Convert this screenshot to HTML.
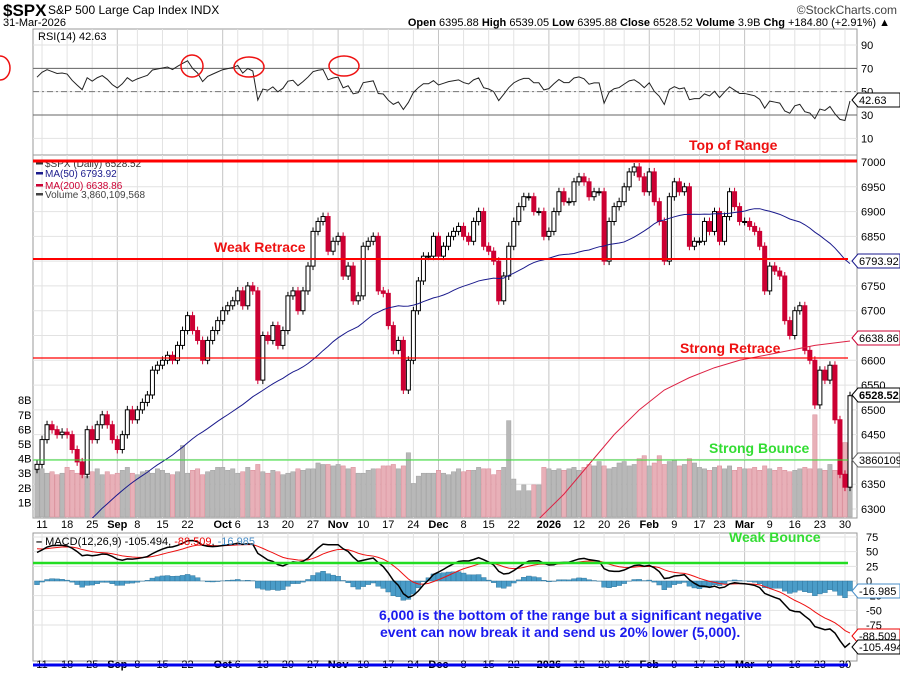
<!DOCTYPE html>
<html><head><meta charset="utf-8"><title>$SPX chart</title>
<style>
html,body{margin:0;padding:0;background:#fff;}
svg{display:block;font-family:"Liberation Sans",sans-serif;}
</style></head>
<body>
<svg id="c" width="900" height="673" viewBox="0 0 900 673" xmlns="http://www.w3.org/2000/svg">
  <rect x="0" y="0" width="900" height="673" fill="#fff"/>
  <g>
    <text x="3" y="16" font-size="17" font-weight="bold">$SPX</text>
    <text x="48" y="14" font-size="12">S&amp;P 500 Large Cap Index  INDX</text>
    <text x="897" y="14" font-size="12" fill="#444" text-anchor="end">©StockCharts.com</text>
    <text x="3" y="26" font-size="11">31-Mar-2026</text>
    <text x="890" y="26" font-size="11" text-anchor="end"><tspan font-weight="bold">Open</tspan> 6395.88 <tspan font-weight="bold">High</tspan> 6539.05 <tspan font-weight="bold">Low</tspan> 6395.88 <tspan font-weight="bold">Close</tspan> 6528.52 <tspan font-weight="bold">Volume</tspan> 3.9B <tspan font-weight="bold">Chg</tspan> +184.80 (+2.91%) ▲</text>
  </g>
  <g id="grid"></g>
  <g id="rsi"></g>
  <g id="price"></g>
  <g id="macd"></g>
  <g id="axes"></g>
  <g id="notes"></g>
</svg>
<script>
// ---------- data ----------
const preCloses = [5890,5920,5940,5910,5900,5880,5840,5800,5920,5890,5910,5910,5930,5970,5940,5940,6000,6020,6040,6020,6000,6030,5980,5970,6030,5980,5970,6020,6080,6090,6140,6170,6200,6190,6230,6280,6280,6260,6230,6270,6260,6240,6260,6290,6300,6300,6310,6360,6390,6380,6390,6370,6360,6340,6240,6330,6300,6350,6340,6390];
const closes = [6390,
6440,6470,6460,6450,6455,
6450,6420,6395,6370,6460,
6440,6470,6490,6470,6440,
6420,6450,6500,6480,
6500,6515,6530,6580,6590,
6600,6610,6600,6630,6660,
6690,6660,6640,6600,6640,
6660,6680,6700,6710,6720,
6740,6710,6750,6740,6560,
6650,6640,6670,6630,6660,
6730,6740,6700,6740,6790,
6860,6880,6890,6820,6840,
6850,6770,6790,6720,6730,
6830,6840,6850,6740,6735,
6670,6620,6640,6540,6600,
6700,6760,6810,6810,6850,
6810,6830,6850,6860,6870,
6850,6840,6880,6900,6830,
6820,6800,6720,6770,6830,
6880,6910,6930,6930,
6900,6900,6850,6860,
6900,6940,6920,6920,6960,
6970,6960,6930,6940,6940,
6800,6880,6910,6920,
6950,6980,6990,6970,6940,
6980,6920,6880,6800,6930,
6960,6940,6950,6830,6840,
6840,6880,6860,6900,
6840,6890,6940,6910,6880,
6880,6870,6860,6830,6740,
6790,6780,6770,6680,6650,
6700,6710,6620,6600,6510,
6580,6560,6590,6480,6370,
6344,6528.52];
const volumes = [3.2,3.3,3.0,3.1,2.9,3.0,3.4,3.2,3.0,3.2,2.8,3.1,3.3,2.9,3.1,2.9,3.0,3.2,3.4,3.0,
2.9,3.1,3.2,3.0,3.3,3.2,3.0,2.9,3.1,4.9,3.0,3.2,3.3,2.9,3.1,3.2,3.4,3.4,3.2,3.3,
3.0,3.1,3.4,3.2,3.6,3.1,3.0,3.2,3.1,2.9,3.0,3.1,3.3,3.2,3.3,3.3,3.7,3.6,3.6,3.5,
3.6,3.5,3.3,3.4,3.0,3.0,3.2,3.3,3.3,3.5,3.5,3.6,3.3,3.5,4.4,2.3,2.8,3.0,3.0,3.0,
3.2,3.0,2.9,3.1,3.3,3.1,3.2,3.2,3.4,3.3,3.3,2.9,3.2,3.4,6.6,2.6,1.8,2.2,1.8,2.2,
2.2,3.4,3.3,3.2,3.3,3.2,3.3,3.4,3.2,3.4,3.6,3.5,3.8,3.5,3.3,3.4,3.7,3.8,3.5,3.6,
4.0,4.2,3.5,3.7,4.2,3.6,3.8,3.9,3.5,3.6,4.0,3.7,3.4,3.3,3.2,3.4,3.5,3.3,3.5,3.2,
3.4,3.3,3.3,3.4,3.2,3.5,3.3,3.2,3.4,3.2,3.1,3.2,3.3,3.4,3.3,7.0,3.3,3.2,3.6,3.2,3.0,5.1,3.86];
const ma200Idx = [100,105,110,115,120,125,130,135,140,145,150,155,162];
const ma200Val = [6280,6330,6390,6450,6500,6540,6565,6585,6600,6610,6620,6630,6638.86];
const tickIdx = [1,6,11,16,20,25,30,37,40,45,50,55,60,65,70,75,80,85,90,95,102,108,113,117,122,127,132,136,141,146,151,156,161];
const tickLbl = ["11","18","25","Sep","8","15","22","Oct","6","13","20","27","Nov","10","17","24","Dec","8","15","22","2026","12","20","26","Feb","9","17","23","Mar","9","16","23","30"];
const priceTicks = [6300,6350,6400,6450,6500,6550,6600,6650,6700,6750,6800,6850,6900,6950,7000];
const volTicks = [1,2,3,4,5,6,7,8];
const rsiTicks = [10,30,50,70,90];
const macdTicks = [-75,-50,-25,0,25,50,75];

// ---------- scales ----------
const NS="http://www.w3.org/2000/svg";
const L=33,R=857,N=closes.length;
const X0=37,X1=850;
const x=i=>X0+i*(X1-X0)/(N-1);
const yP=p=>162-(p-7000)*0.4957;
const yV=v=>517-v*14.6;
const yR=v=>115-(v-30)*1.1667;
const yM=v=>581-v*0.587;
function el(tag,attrs,parent){const e=document.createElementNS(NS,tag);for(const k in attrs)e.setAttribute(k,attrs[k]);parent.appendChild(e);return e;}
const G=id=>document.getElementById(id);
const svg=G('c');
const defs=el('defs',{},svg);
const cp=el('clipPath',{id:'pc'},defs);el('rect',{x:L,y:155,width:R-L,height:363},cp);
const cr=el('clipPath',{id:'rc'},defs);el('rect',{x:L,y:29,width:R-L,height:126},cr);
const cm=el('clipPath',{id:'mc'},defs);el('rect',{x:L,y:533,width:R-L,height:128},cm);

// indicators
const all=preCloses.concat(closes);const off=preCloses.length;
function ema(arr,n){const k=2/(n+1);const o=[];let e=arr[0];arr.forEach((v,i)=>{e=i?v*k+e*(1-k):v;o.push(e);});return o;}
const e12=ema(all,12),e26=ema(all,26);const macdAll=all.map((v,i)=>e12[i]-e26[i]);const sigAll=ema(macdAll,9);
const macd=macdAll.slice(off),sig=sigAll.slice(off);
const rsiAll=[];let ag=0,al=0;
for(let i=1;i<all.length;i++){const d=all[i]-all[i-1];const g=Math.max(d,0),l=Math.max(-d,0);
 if(i<=14){ag+=g/14;al+=l/14;}else{ag=(ag*13+g)/14;al=(al*13+l)/14;}
 rsiAll[i]=al===0?100:100-100/(1+ag/al);}
const rsi=rsiAll.slice(off);
const ma50=closes.map((c,i)=>{const j=i+off;let s=0;for(let k=j-49;k<=j;k++)s+=all[k];return s/50;});

// ---------- panels & grid ----------
const grid=G('grid');
[[29,155],[155,518],[533,661]].forEach(([t,b])=>{
  const r=el('rect',{x:L,y:t,width:R-L,height:b-t,fill:'none',stroke:'#999','stroke-width':1},grid);
  
  
  tickIdx.forEach((ti,k)=>{const isM=isNaN(+tickLbl[k])||tickLbl[k]==='2026';
    el('line',{x1:x(ti),x2:x(ti),y1:t,y2:b,stroke:isM?'#c4c4c4':'#e2e2e2','stroke-width':1},grid);});
});
priceTicks.forEach(p=>el('line',{x1:L,x2:R,y1:yP(p),y2:yP(p),stroke:'#e2e2e2'},grid));
rsiTicks.forEach(v=>el('line',{x1:L,x2:R,y1:yR(v),y2:yR(v),stroke:'#e2e2e2'},grid));
macdTicks.forEach(v=>el('line',{x1:L,x2:R,y1:yM(v),y2:yM(v),stroke:'#e2e2e2'},grid));

// ---------- RSI ----------
const rg=G('rsi');
el('line',{x1:L,x2:R,y1:yR(70),y2:yR(70),stroke:'#666'},rg);
el('line',{x1:L,x2:R,y1:yR(30),y2:yR(30),stroke:'#666'},rg);
el('line',{x1:L,x2:R,y1:yR(50),y2:yR(50),stroke:'#777','stroke-dasharray':'6,3,2,3'},rg);
const rl=el('polyline',{points:rsi.map((v,i)=>x(i)+','+yR(v)).join(' '),fill:'none',stroke:'#222','stroke-width':1,'clip-path':'url(#rc)'},rg);


const rt=el('text',{x:38,y:40,'font-size':11},rg);rt.textContent='RSI(14) 42.63';



// ---------- price ----------
const pg=G('price');
const vg=el('g',{'clip-path':'url(#pc)'},pg);
volumes.forEach((v,i)=>{const dn=i>0&&closes[i]<closes[i-1];
  const b=el('rect',{x:x(i)-2.2,y:yV(v),width:4.4,height:517-yV(v),fill:dn?'#e8b0b8':'#b8b8b8',stroke:dn?'#d88a96':'#a0a0a0','stroke-width':0.5},vg);
  
  });
const cg=el('g',{'clip-path':'url(#pc)'},pg);
closes.forEach((c,i)=>{const o=i?closes[i-1]:c-10;const up=c>=o;const col=up?'#000':'#cc0033';
  const hi=Math.max(o,c)+8,lo=Math.min(o,c)-8;
  el('line',{x1:x(i),x2:x(i),y1:yP(hi),y2:yP(lo),stroke:col,'stroke-width':1},cg);
  const top=yP(Math.max(o,c)),h=Math.max(1,Math.abs(yP(o)-yP(c)));
  const b=el('rect',{x:x(i)-2,y:top,width:4,height:h,fill:up?'#fff':col,stroke:col,'stroke-width':1},cg);
  
  });
const m50=el('polyline',{points:ma50.map((v,i)=>x(i)+','+yP(v)).join(' '),fill:'none',stroke:'#1a1a8c','stroke-width':1,'clip-path':'url(#pc)'},pg);


const m200=el('polyline',{points:ma200Idx.map((ix,k)=>x(ix)+','+yP(ma200Val[k])).join(' '),fill:'none',stroke:'#dd2244','stroke-width':1,'clip-path':'url(#pc)'},pg);


[['$SPX (Daily) 6528.52','#333',167],['MA(50) 6793.92','#1a1a8c',177],['MA(200) 6638.86','#cc0033',189],['Volume 3,860,109,568','#444',198]].forEach(([t,c,yy],k)=>{
  const tx=el('text',{x:45,y:yy,'font-size':10,fill:c},pg);tx.textContent=t;
  
  
  el('rect',{x:36,y:yy-5,width:7,height:2.5,fill:c},pg);});

// ---------- MACD ----------
const mg=G('macd');const mcg=el('g',{'clip-path':'url(#mc)'},mg);
macd.forEach((v,i)=>{const h=v-sig[i];const b=el('rect',{x:x(i)-2.5,y:Math.min(yM(0),yM(h)),width:5,height:Math.abs(yM(h)-yM(0)),fill:'#4a9cc8',stroke:'#2a6f96','stroke-width':0.4},mcg);
  
  });
const sl=el('polyline',{points:sig.map((v,i)=>x(i)+','+yM(v)).join(' '),fill:'none',stroke:'#ee1111','stroke-width':1},mcg);


const ml=el('polyline',{points:macd.map((v,i)=>x(i)+','+yM(v)).join(' '),fill:'none',stroke:'#000','stroke-width':1.5},mcg);


const mt=el('text',{x:36,y:545,'font-size':11},mg);
mt.innerHTML='<tspan font-weight="bold">–</tspan> MACD(12,26,9) -105.494, <tspan fill="#e00">-88.509</tspan>, <tspan fill="#4a8fc8">-16.985</tspan>';



// ---------- axes ----------
const ax=G('axes');
function lab(t,xx,yy,opt){const e=el('text',Object.assign({x:xx,y:yy,'font-size':11},opt||{}),ax);e.textContent=t;return e;}
priceTicks.forEach(p=>{const e=lab(String(p),861,yP(p)+4);});
volTicks.forEach(v=>{const e=lab(v+'B',18,yV(v)+4);});
rsiTicks.forEach(v=>{const e=lab(String(v),861,yR(v)+4);});
macdTicks.forEach(v=>{const e=lab(String(v),866,yM(v)+4);});
[[528],[668]].forEach(([yy])=>tickIdx.forEach((ti,k)=>{const m=isNaN(+tickLbl[k])||tickLbl[k]==='2026';
  const e=lab(tickLbl[k],x(ti),yy,{'text-anchor':'middle','font-weight':m?'bold':'normal'});
  
  }));
function tag(t,yy,c,bold){const g=el('g',{},ax);el('path',{d:`M852 ${yy} l6 -7 h42 v14 h-42 z`,fill:'#fff',stroke:c},g);
  const e=el('text',{x:859,y:yy+4,'font-size':11,fill:'#000','font-weight':bold?'bold':'normal'},g);e.textContent=t;
  }
tag('6793.92',261,'#1a1a8c');tag('6638.86',338,'#cc0033');tag('6528.52',395,'#000',true);tag('3860109',460,'#666');
tag('42.63',100,'#000');tag('-16.985',591,'#4a8fc8');tag('-88.509',636,'#e00');tag('-105.494',647,'#000');

// ---------- annotations ----------
const nt=G('notes');
function hl(yy,w,c,x2,name){const l=el('line',{x1:L,x2:x2||R,y1:yy,y2:yy,stroke:c,'stroke-width':w},nt);}
hl(161,3,'#ff0000',R,'top-of-range-line');hl(259,2,'#ff0000',848,'weak-retrace-line');hl(358,1.2,'#ff0000',848,'strong-retrace-line');
hl(460,1,'#33dd33',848,'strong-bounce-line');hl(563,2.5,'#22dd22',848,'weak-bounce-line');
const bl=el('line',{x1:L,x2:848,y1:665,y2:665,stroke:'#0000ee','stroke-width':3},nt);
function note(t,xx,yy,c,name){const e=el('text',{x:xx,y:yy,'font-size':14,'font-weight':'bold',fill:c},nt);e.textContent=t;}
note('Top of Range',689,150,'#ee1111','top-of-range-label');note('Weak Retrace',214,252,'#ee1111','weak-retrace-label');
note('Strong Retrace',680,353,'#ee1111','strong-retrace-label');note('Strong Bounce',709,453,'#33dd33','strong-bounce-label');
note('Weak Bounce',729,542,'#33dd33','weak-bounce-label');
note('6,000 is the bottom of the range but a significant negative',379,620,'#1a1aee','outlook-note-line1');
note('event can now break it and send us 20% lower (5,000).',380,637,'#1a1aee','outlook-note-line2');
[[192,66,11,11],[249,67,15,10],[344,66,15,10],[0,68,10,12]].forEach(([cx,cy,rx,ry])=>{const e=el('ellipse',{cx,cy,rx,ry,fill:'none',stroke:'#ee1111','stroke-width':1.5},nt);
  });
</script>
</body></html>
